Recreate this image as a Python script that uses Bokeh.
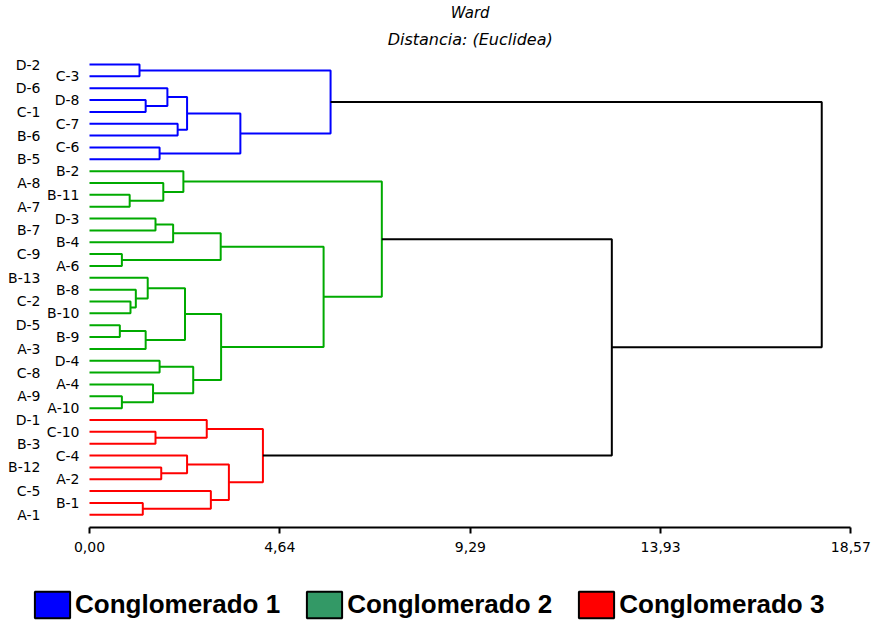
from bokeh.plotting import figure
from bokeh.layouts import column
from bokeh.models import Range1d, LinearAxis, FixedTicker, Label, Legend, LegendItem, ColumnDataSource
from bokeh.core.properties import value
from bokeh.embed import file_html
from bokeh.resources import INLINE

# ---- data -----------------------------------------------------------
leaf_labels = ["D-2", "C-3", "D-6", "D-8", "C-1", "C-7", "B-6", "C-6", "B-5",
               "B-2", "A-8", "B-11", "A-7", "D-3", "B-7", "B-4", "C-9", "A-6",
               "B-13", "B-8", "C-2", "B-10", "D-5", "B-9", "A-3", "D-4", "C-8",
               "A-4", "A-9", "A-10",
               "D-1", "C-10", "B-3", "C-4", "B-12", "A-2", "C-5", "B-1", "A-1"]

# linkage: node ids 0..38 are leaves (display order), merge k creates node 39+k
merge_left = [0, 3, 2, 5, 41, 7, 43, 39,
              11, 10, 9, 13, 50, 16, 51, 20, 19, 18, 22, 57, 56, 25, 28, 27, 60, 59, 53, 49,
              31, 30, 34, 33, 37, 36, 70, 68,
              66, 46]
merge_right = [1, 4, 40, 6, 42, 8, 44, 45,
               12, 47, 48, 14, 15, 17, 52, 21, 54, 55, 23, 24, 58, 26, 29, 61, 62, 63, 64, 65,
               32, 67, 35, 69, 38, 71, 72, 73,
               74, 75]
merge_height = [1.22, 1.37, 1.90, 2.15, 2.38, 1.71, 3.68, 5.88,
                0.98, 1.80, 2.29, 1.61, 2.04, 0.79, 3.20, 1.00, 1.13, 1.42, 0.74, 1.37,
                2.33, 1.71, 0.79, 1.55, 2.53, 3.21, 5.71, 7.13,
                1.61, 2.86, 1.75, 2.38, 1.30, 2.96, 3.40, 4.23,
                12.74, 17.86]
merge_cluster = [1] * 8 + [2] * 20 + [3] * 8 + [0, 0]

cluster_names = ["Conglomerado 1", "Conglomerado 2", "Conglomerado 3"]
line_colors = {0: "#000000", 1: "#0000ff", 2: "#00aa00", 3: "#ff0000"}
legend_colors = ["#0000ff", "#339966", "#ff0000"]

tick_values = [0, 4.64, 9.29, 13.93, 18.57]
tick_labels = ["0,00", "4,64", "9,29", "13,93", "18,57"]
axis_max = 18.57

title_text = "Ward"
subtitle_text = "Distancia: (Euclidea)"

# ---- dendrogram geometry --------------------------------------------
n = len(leaf_labels)
pos = {i: float(i) for i in range(n)}
hgt = {i: 0.0 for i in range(n)}
xs, ys, cols = [], [], []
for k, (a, b, h, c) in enumerate(zip(merge_left, merge_right, merge_height, merge_cluster)):
    node = n + k
    pos[node] = (pos[a] + pos[b]) / 2.0
    hgt[node] = h
    xs.append([hgt[a], h, h, hgt[b]])
    ys.append([pos[a], pos[a], pos[b], pos[b]])
    cols.append(line_colors[c])

# ---- main figure --------------------------------------------------------
p = figure(width=872, height=587,
           x_range=Range1d(-2.1707, 19.098), y_range=Range1d(39.072, -5.401),
           x_axis_type=None, y_axis_type=None,
           toolbar_location=None, output_backend="svg",
           min_border_left=0, min_border_right=0, min_border_top=0, min_border_bottom=60)
p.outline_line_color = None
p.background_fill_color = "white"
p.border_fill_color = "white"

p.multi_line(xs=xs, ys=ys, line_color=cols, line_width=2)

even = ColumnDataSource(dict(x=[0.0] * len(leaf_labels[0::2]),
                             y=list(range(0, n, 2)), t=leaf_labels[0::2]))
odd = ColumnDataSource(dict(x=[0.0] * len(leaf_labels[1::2]),
                            y=list(range(1, n, 2)), t=leaf_labels[1::2]))
for src, off in ((even, -49), (odd, -10)):
    p.text(x="x", y="y", text="t", source=src, x_offset=off,
           text_align="right", text_baseline="middle",
           text_font=value("DejaVu Sans"), text_font_size="14px", text_color="black")

xaxis = LinearAxis(ticker=FixedTicker(ticks=tick_values), bounds=(0, axis_max),
                   major_label_overrides=dict(zip(tick_values, tick_labels)),
                   axis_line_width=2, axis_line_color="black",
                   major_tick_in=0, major_tick_out=6, major_tick_line_width=2,
                   major_tick_line_color="black", minor_tick_line_color=None,
                   major_label_standoff=8, major_label_text_font="DejaVu Sans",
                   major_label_text_font_size="14px", major_label_text_color="black")
p.add_layout(xaxis, "below")

p.add_layout(Label(x=axis_max / 2, y=-4.35, text=title_text, text_align="center",
                   text_baseline="middle", text_font="DejaVu Sans",
                   text_font_style="italic", text_font_size="15px", text_color="black"))
p.add_layout(Label(x=axis_max / 2, y=-2.11, text=subtitle_text, text_align="center",
                   text_baseline="middle", text_font="DejaVu Sans",
                   text_font_style="italic", text_font_size="16px", text_color="black"))

# ---- legend strip -------------------------------------------------------
q = figure(width=872, height=34, x_range=Range1d(0, 1), y_range=Range1d(0, 1),
           x_axis_type=None, y_axis_type=None,
           toolbar_location=None, output_backend="svg",
           min_border_left=0, min_border_right=0, min_border_top=0, min_border_bottom=0)
q.outline_line_color = None
q.background_fill_color = "white"
q.border_fill_color = "white"

items = []
for name, col in zip(cluster_names, legend_colors):
    # legend-only renderer: one quad kept outside the visible ranges
    r = q.quad(left=[10], right=[11], top=[11], bottom=[10], fill_color=col,
               line_color="black", line_width=2)
    items.append(LegendItem(label=name, renderers=[r]))
legend = Legend(items=items, location=(30, 0), orientation="horizontal",
                glyph_width=44, glyph_height=33, label_standoff=1, spacing=22,
                padding=0, margin=0, border_line_color=None, background_fill_alpha=0,
                label_text_font="Liberation Sans", label_text_font_style="bold",
                label_text_font_size="26px", label_text_color="black")
q.add_layout(legend)

page = column(p, q, spacing=0)
open("out.html", "w").write(file_html(page, INLINE))
